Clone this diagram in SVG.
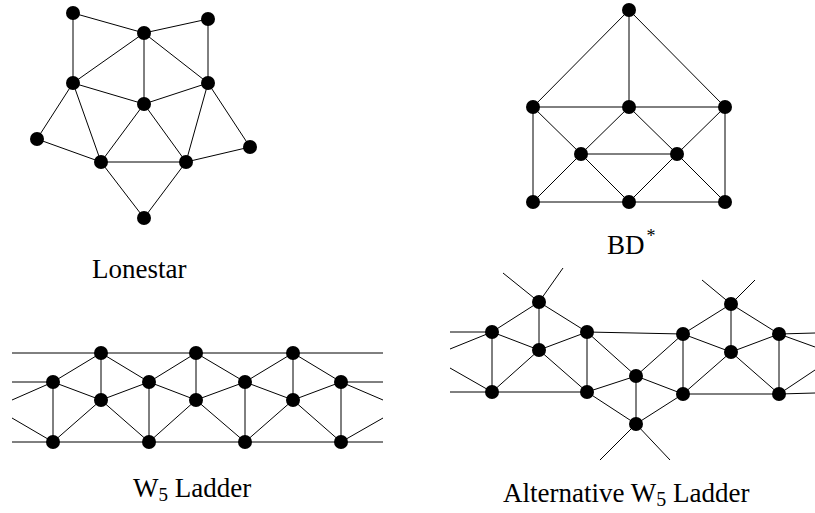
<svg xmlns="http://www.w3.org/2000/svg" width="815" height="513" viewBox="0 0 815 513">
<style>
.e line{stroke:#000;stroke-width:1;fill:none}
.n circle{fill:#000}
.lbl{font-family:"Liberation Serif","Times New Roman",serif;font-size:27px;fill:#000}
</style>
<rect width="815" height="513" fill="#fff"/>

<!-- Lonestar -->
<g id="lonestar-edges" class="e">
<line x1="73" y1="13" x2="144" y2="33"/>
<line x1="73" y1="13" x2="73" y2="83"/>
<line x1="144" y1="33" x2="208" y2="19"/>
<line x1="208" y1="19" x2="208" y2="83"/>
<line x1="144" y1="33" x2="73" y2="83"/>
<line x1="144" y1="33" x2="144" y2="104"/>
<line x1="144" y1="33" x2="208" y2="83"/>
<line x1="73" y1="83" x2="144" y2="104"/>
<line x1="144" y1="104" x2="208" y2="83"/>
<line x1="73" y1="83" x2="37" y2="139"/>
<line x1="73" y1="83" x2="101" y2="162"/>
<line x1="37" y1="139" x2="101" y2="162"/>
<line x1="144" y1="104" x2="101" y2="162"/>
<line x1="144" y1="104" x2="186" y2="162"/>
<line x1="101" y1="162" x2="186" y2="162"/>
<line x1="208" y1="83" x2="186" y2="162"/>
<line x1="208" y1="83" x2="250" y2="147"/>
<line x1="186" y1="162" x2="250" y2="147"/>
<line x1="101" y1="162" x2="144" y2="218"/>
<line x1="186" y1="162" x2="144" y2="218"/>
</g>
<g id="lonestar-nodes" class="n">
<g id="ls-a"><circle cx="73" cy="13" r="7"/></g>
<g id="ls-b"><circle cx="144" cy="33" r="7"/></g>
<g id="ls-c"><circle cx="208" cy="19" r="7"/></g>
<g id="ls-d"><circle cx="73" cy="83" r="7"/></g>
<g id="ls-e"><circle cx="144" cy="104" r="7"/></g>
<g id="ls-f"><circle cx="208" cy="83" r="7"/></g>
<g id="ls-g"><circle cx="37" cy="139" r="7"/></g>
<g id="ls-h"><circle cx="101" cy="162" r="7"/></g>
<g id="ls-i"><circle cx="186" cy="162" r="7"/></g>
<g id="ls-j"><circle cx="250" cy="147" r="7"/></g>
<g id="ls-k"><circle cx="144" cy="218" r="7"/></g>
</g>
<text class="lbl" x="92" y="278">Lonestar</text>

<!-- BD* -->
<g id="bd-edges" class="e">
<line x1="629" y1="10" x2="533" y2="107"/>
<line x1="629" y1="10" x2="629" y2="107"/>
<line x1="629" y1="10" x2="725" y2="107"/>
<line x1="533" y1="107" x2="725" y2="107"/>
<line x1="533" y1="107" x2="533" y2="202"/>
<line x1="725" y1="107" x2="725" y2="202"/>
<line x1="533" y1="107" x2="581" y2="154"/>
<line x1="629" y1="107" x2="581" y2="154"/>
<line x1="629" y1="107" x2="677" y2="154"/>
<line x1="725" y1="107" x2="677" y2="154"/>
<line x1="581" y1="154" x2="677" y2="154"/>
<line x1="581" y1="154" x2="533" y2="202"/>
<line x1="581" y1="154" x2="629" y2="202"/>
<line x1="677" y1="154" x2="629" y2="202"/>
<line x1="677" y1="154" x2="725" y2="202"/>
<line x1="533" y1="202" x2="725" y2="202"/>
</g>
<g id="bd-nodes" class="n">
<g id="bd-top"><circle cx="629" cy="10" r="7"/></g>
<g id="bd-ml"><circle cx="533" cy="107" r="7"/></g>
<g id="bd-mc"><circle cx="629" cy="107" r="7"/></g>
<g id="bd-mr"><circle cx="725" cy="107" r="7"/></g>
<g id="bd-il"><circle cx="581" cy="154" r="7"/></g>
<g id="bd-ir"><circle cx="677" cy="154" r="7"/></g>
<g id="bd-bl"><circle cx="533" cy="202" r="7"/></g>
<g id="bd-bm"><circle cx="629" cy="202" r="7"/></g>
<g id="bd-br"><circle cx="725" cy="202" r="7"/></g>
</g>
<text class="lbl" x="607" y="254" font-size="26">BD<tspan font-size="18" dx="2" dy="-12">*</tspan></text>

<!-- W5 Ladder -->
<g id="w5-edges" class="e">
<line x1="12" y1="353" x2="383" y2="353"/>
<line x1="12" y1="442" x2="383" y2="442"/>
<line x1="12" y1="382" x2="53" y2="382"/>
<line x1="341" y1="382" x2="383" y2="382"/>
<line x1="12" y1="400" x2="53" y2="382"/>
<line x1="12" y1="418" x2="53" y2="442"/>
<line x1="341" y1="382" x2="383" y2="400"/>
<line x1="341" y1="442" x2="383" y2="418"/>
<line x1="101" y1="353" x2="53" y2="382"/>
<line x1="101" y1="353" x2="149" y2="382"/>
<line x1="101" y1="353" x2="101" y2="400"/>
<line x1="101" y1="400" x2="53" y2="382"/>
<line x1="101" y1="400" x2="149" y2="382"/>
<line x1="101" y1="400" x2="53" y2="442"/>
<line x1="101" y1="400" x2="149" y2="442"/>
<line x1="196" y1="353" x2="149" y2="382"/>
<line x1="196" y1="353" x2="245" y2="382"/>
<line x1="196" y1="353" x2="196" y2="400"/>
<line x1="196" y1="400" x2="149" y2="382"/>
<line x1="196" y1="400" x2="245" y2="382"/>
<line x1="196" y1="400" x2="149" y2="442"/>
<line x1="196" y1="400" x2="245" y2="442"/>
<line x1="293" y1="353" x2="245" y2="382"/>
<line x1="293" y1="353" x2="341" y2="382"/>
<line x1="293" y1="353" x2="293" y2="400"/>
<line x1="293" y1="400" x2="245" y2="382"/>
<line x1="293" y1="400" x2="341" y2="382"/>
<line x1="293" y1="400" x2="245" y2="442"/>
<line x1="293" y1="400" x2="341" y2="442"/>
<line x1="53" y1="382" x2="53" y2="442"/>
<line x1="149" y1="382" x2="149" y2="442"/>
<line x1="245" y1="382" x2="245" y2="442"/>
<line x1="341" y1="382" x2="341" y2="442"/>
</g>
<g id="w5-nodes" class="n">
<g id="w5-t1"><circle cx="101" cy="353" r="7"/></g>
<g id="w5-t2"><circle cx="196" cy="353" r="7"/></g>
<g id="w5-t3"><circle cx="293" cy="353" r="7"/></g>
<g id="w5-s1"><circle cx="53" cy="382" r="7"/></g>
<g id="w5-s2"><circle cx="149" cy="382" r="7"/></g>
<g id="w5-s3"><circle cx="245" cy="382" r="7"/></g>
<g id="w5-s4"><circle cx="341" cy="382" r="7"/></g>
<g id="w5-m1"><circle cx="101" cy="400" r="7"/></g>
<g id="w5-m2"><circle cx="196" cy="400" r="7"/></g>
<g id="w5-m3"><circle cx="293" cy="400" r="7"/></g>
<g id="w5-b1"><circle cx="53" cy="442" r="7"/></g>
<g id="w5-b2"><circle cx="149" cy="442" r="7"/></g>
<g id="w5-b3"><circle cx="245" cy="442" r="7"/></g>
<g id="w5-b4"><circle cx="341" cy="442" r="7"/></g>
</g>
<text class="lbl" x="133" y="497">W<tspan font-size="19" dy="4">5</tspan><tspan dy="-4"> Ladder</tspan></text>

<!-- Alternative W5 Ladder -->
<g id="alt-edges" class="e">
<line x1="503" y1="273" x2="539" y2="302"/>
<line x1="563" y1="268" x2="539" y2="302"/>
<line x1="702" y1="280" x2="731" y2="304"/>
<line x1="755" y1="280" x2="731" y2="304"/>
<line x1="600" y1="460" x2="636" y2="424"/>
<line x1="670" y1="460" x2="636" y2="424"/>
<line x1="450" y1="332" x2="492" y2="332"/>
<line x1="450" y1="349" x2="492" y2="332"/>
<line x1="450" y1="368" x2="492" y2="392"/>
<line x1="450" y1="392" x2="492" y2="392"/>
<line x1="779" y1="334" x2="815" y2="333"/>
<line x1="779" y1="334" x2="815" y2="347"/>
<line x1="779" y1="394" x2="815" y2="370"/>
<line x1="779" y1="394" x2="815" y2="393"/>
<line x1="539" y1="302" x2="492" y2="332"/>
<line x1="539" y1="302" x2="539" y2="350"/>
<line x1="539" y1="302" x2="587" y2="332"/>
<line x1="492" y1="332" x2="539" y2="350"/>
<line x1="539" y1="350" x2="587" y2="332"/>
<line x1="492" y1="332" x2="492" y2="392"/>
<line x1="539" y1="350" x2="492" y2="392"/>
<line x1="539" y1="350" x2="587" y2="392"/>
<line x1="587" y1="332" x2="587" y2="392"/>
<line x1="492" y1="392" x2="587" y2="392"/>
<line x1="587" y1="332" x2="683" y2="334"/>
<line x1="587" y1="332" x2="636" y2="376"/>
<line x1="587" y1="392" x2="636" y2="376"/>
<line x1="636" y1="376" x2="636" y2="424"/>
<line x1="587" y1="392" x2="636" y2="424"/>
<line x1="636" y1="376" x2="683" y2="334"/>
<line x1="636" y1="376" x2="683" y2="394"/>
<line x1="636" y1="424" x2="683" y2="394"/>
<line x1="683" y1="334" x2="683" y2="394"/>
<line x1="683" y1="334" x2="731" y2="304"/>
<line x1="683" y1="334" x2="731" y2="352"/>
<line x1="731" y1="304" x2="731" y2="352"/>
<line x1="731" y1="304" x2="779" y2="334"/>
<line x1="731" y1="352" x2="779" y2="334"/>
<line x1="731" y1="352" x2="683" y2="394"/>
<line x1="731" y1="352" x2="779" y2="394"/>
<line x1="779" y1="334" x2="779" y2="394"/>
<line x1="683" y1="394" x2="779" y2="394"/>
</g>
<g id="alt-nodes" class="n">
<g id="alt-a"><circle cx="539" cy="302" r="7"/></g>
<g id="alt-b"><circle cx="492" cy="332" r="7"/></g>
<g id="alt-c"><circle cx="539" cy="350" r="7"/></g>
<g id="alt-d"><circle cx="587" cy="332" r="7"/></g>
<g id="alt-e"><circle cx="492" cy="392" r="7"/></g>
<g id="alt-f"><circle cx="587" cy="392" r="7"/></g>
<g id="alt-g"><circle cx="636" cy="376" r="7"/></g>
<g id="alt-h"><circle cx="636" cy="424" r="7"/></g>
<g id="alt-i"><circle cx="683" cy="334" r="7"/></g>
<g id="alt-j"><circle cx="731" cy="304" r="7"/></g>
<g id="alt-k"><circle cx="731" cy="352" r="7"/></g>
<g id="alt-l"><circle cx="779" cy="334" r="7"/></g>
<g id="alt-m"><circle cx="683" cy="394" r="7"/></g>
<g id="alt-n"><circle cx="779" cy="394" r="7"/></g>
</g>
<text class="lbl" x="503" y="502" font-size="28">Alternative W<tspan font-size="20" dy="4">5</tspan><tspan dy="-4"> Ladder</tspan></text>
</svg>
